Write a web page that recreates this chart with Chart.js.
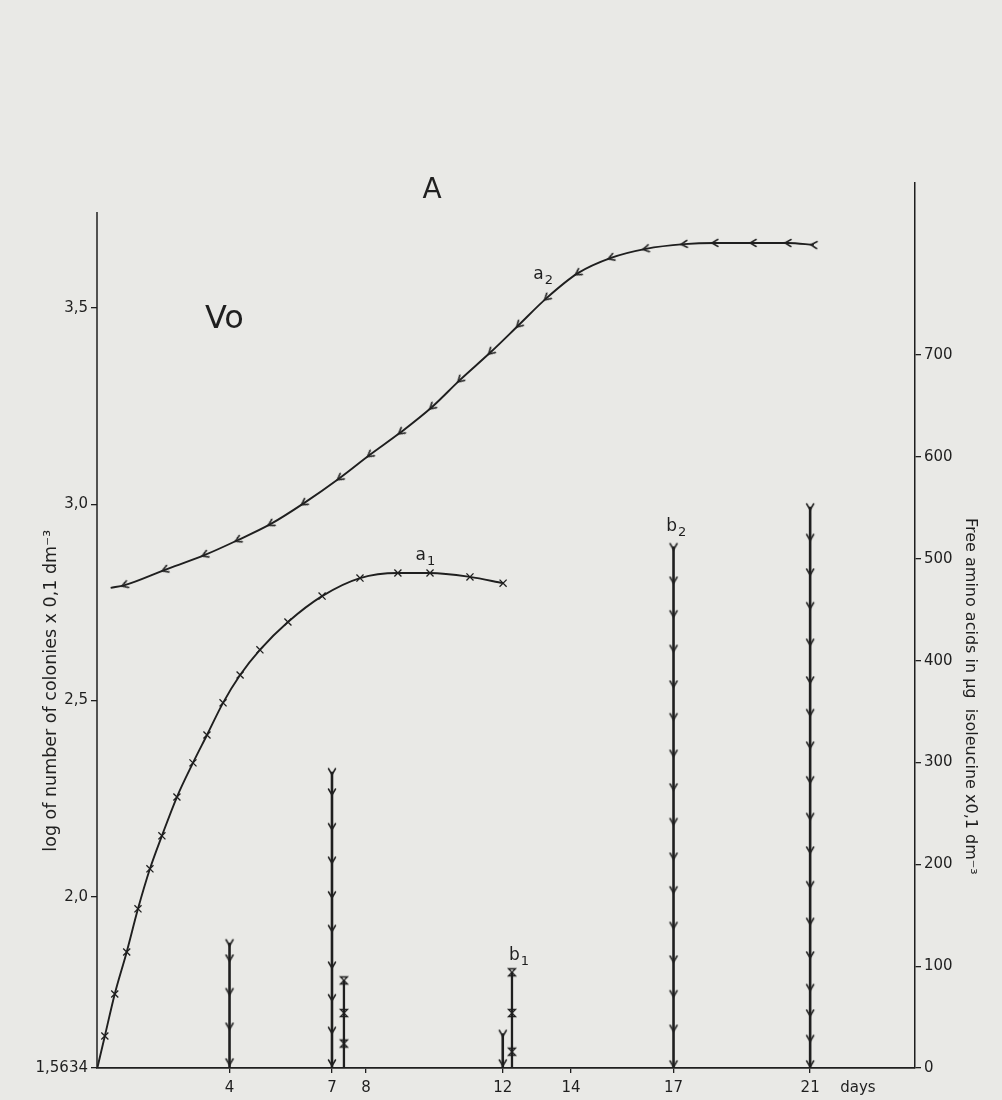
<!DOCTYPE html>
<html>
<head>
<meta charset="utf-8">
<script src="https://cdn.jsdelivr.net/npm/chart.js@4.4.1/dist/chart.umd.min.js"></script>
<style>
  html, body { margin: 0; padding: 0; background: #e9e9e6; }
  #wrap { width: 1002px; height: 1100px; position: relative; }
</style>
</head>
<body>
<div id="wrap"><canvas id="chart"></canvas></div>
<script>
// curve a1 - log of colonies (left axis)
const a1Days = [0.13, 0.35, 0.64, 0.99, 1.32, 1.67, 2.02, 2.46, 2.93, 3.34, 3.81, 4.31, 4.89, 5.71, 6.71, 7.82, 8.93, 9.87, 11.04, 12.01];
const a1Log = [1.5634, 1.645, 1.752, 1.859, 1.969, 2.071, 2.155, 2.254, 2.341, 2.412, 2.494, 2.565, 2.629, 2.700, 2.766, 2.812, 2.825, 2.825, 2.815, 2.799];

// curve a2 - log of colonies (left axis)
const a2Days = [0.52, 0.93, 2.11, 3.28, 4.25, 5.21, 6.18, 7.23, 8.11, 9.02, 9.93, 10.75, 11.65, 12.47, 13.29, 14.20, 15.17, 16.19, 17.31, 18.21, 19.33, 20.35, 21.11];
const a2Log = [2.787, 2.794, 2.833, 2.871, 2.909, 2.950, 3.003, 3.067, 3.126, 3.184, 3.248, 3.317, 3.388, 3.457, 3.526, 3.589, 3.628, 3.651, 3.663, 3.666, 3.666, 3.666, 3.661];

// free amino acid columns (right axis), marks read from bottom to top
const bColumnDays = [4, 7, 12, 17, 21];
const bColumnValues = [
    [0, 6, 41, 75, 108, 123],
    [0, 5, 37, 69, 101, 137, 170, 204, 237, 271, 291],
    [0, 5, 34],
    [0, 4, 39, 73, 107, 140, 175, 208, 242, 276, 309, 345, 377, 412, 446, 479, 512],
    [0, 4, 29, 54, 79, 111, 144, 180, 214, 247, 283, 317, 349, 381, 418, 454, 487, 521, 551]
];
const xColumnDays = [7.35, 12.27];
const xColumnValues = [
    [0, 24, 54, 86],
    [0, 16, 54, 94]
];

// tick labels
const logTicks = [1.5634, 2.0, 2.5, 3.0, 3.5];
const aminoTicks = [0, 100, 200, 300, 400, 500, 600, 700];
const dayTicks = [4, 7, 8, 12, 14, 17, 21];
const dayUnitAt = 22.4; // where the "days" word sits on the axis

const ink = '#1f1f1f';
const font = 'DejaVu Sans';

// small marker shapes
function chevronDown() {
    const c = document.createElement('canvas');
    c.width = 12; c.height = 12;
    const g = c.getContext('2d');
    g.strokeStyle = ink; g.lineWidth = 1.5; g.lineCap = 'round';
    g.beginPath();
    g.moveTo(2.5, 3); g.lineTo(6, 9); g.lineTo(9.5, 3);
    g.stroke();
    return c;
}
function hourglass() {
    const c = document.createElement('canvas');
    c.width = 12; c.height = 12;
    const g = c.getContext('2d');
    g.strokeStyle = ink; g.lineWidth = 1.3;
    g.beginPath();
    g.moveTo(2.5, 2.5); g.lineTo(9.5, 2.5); g.lineTo(2.5, 9.5); g.lineTo(9.5, 9.5); g.closePath();
    g.stroke();
    return c;
}
const vMark = chevronDown();
const xMark = hourglass();

function pairs(xs, ys) {
    return xs.map((x, i) => ({ x: x, y: ys[i] }));
}

// turn the a2 arrowheads so they follow the curve
function alongCurve(ctx) {
    if (ctx.dataIndex === undefined) return 90;
    const d = ctx.dataset.data, i = ctx.dataIndex;
    const sx = ctx.chart.scales.x, sy = ctx.chart.scales.y;
    const p = d[Math.max(i - 1, 0)], q = d[Math.min(i + 1, d.length - 1)];
    const ang = Math.atan2(sy.getPixelForValue(q.y) - sy.getPixelForValue(p.y),
                           sx.getPixelForValue(q.x) - sx.getPixelForValue(p.x));
    return 90 + ang * 180 / Math.PI;
}

const datasets = [];
datasets.push({
    label: 'a1', data: pairs(a1Days, a1Log), yAxisID: 'y',
    borderColor: ink, borderWidth: 1.9, cubicInterpolationMode: 'monotone',
    pointStyle: 'crossRot', pointBorderColor: ink, pointBorderWidth: 1.3,
    pointRadius: ctx => ctx.dataIndex === 0 ? 0 : 5
});
datasets.push({
    label: 'a2', data: pairs(a2Days, a2Log), yAxisID: 'y',
    borderColor: ink, borderWidth: 1.9, cubicInterpolationMode: 'monotone',
    pointStyle: vMark, rotation: alongCurve,
    pointRadius: ctx => ctx.dataIndex === 0 ? 0 : 5
});
bColumnDays.forEach((day, k) => {
    datasets.push({
        label: 'b' + day, yAxisID: 'y2',
        data: bColumnValues[k].map(v => ({ x: day, y: v })),
        borderColor: ink, borderWidth: 2.6,
        pointStyle: vMark,
        pointRadius: ctx => ctx.dataIndex === 0 ? 0 : 5
    });
});
xColumnDays.forEach((day, k) => {
    datasets.push({
        label: 'x' + day, yAxisID: 'y2',
        data: xColumnValues[k].map(v => ({ x: day, y: v })),
        borderColor: ink, borderWidth: 2.3,
        pointStyle: xMark,
        pointRadius: ctx => ctx.dataIndex === 0 ? 0 : 5
    });
});

// background, left axis line and free text
const paperPlugin = {
    id: 'paper',
    beforeDraw(chart) {
        const c = chart.ctx;
        c.save();
        c.fillStyle = '#e9e9e6';
        c.fillRect(0, 0, chart.width, chart.height);
        c.restore();
    },
    afterDraw(chart) {
        const c = chart.ctx, x = chart.scales.x, y = chart.scales.y, area = chart.chartArea;
        c.save();
        // left axis stops below the top of the plot
        c.strokeStyle = ink; c.lineWidth = 1.5;
        c.beginPath();
        c.moveTo(area.left, y.getPixelForValue(1.5634));
        c.lineTo(area.left, y.getPixelForValue(3.745));
        c.stroke();

        c.fillStyle = ink;
        c.textAlign = 'center';
        c.textBaseline = 'middle';
        c.font = '28px ' + font;
        c.fillText('A', x.getPixelForValue(9.93), area.top + 8);
        c.font = '32px ' + font;
        c.fillText('Vo', x.getPixelForValue(3.85), y.getPixelForValue(3.47));

        // curve labels with subscripts
        function tag(letter, sub, px, py) {
            c.font = '17px ' + font;
            c.textAlign = 'right';
            c.fillText(letter, px, py);
            c.font = '13px ' + font;
            c.textAlign = 'left';
            c.fillText(sub, px + 1, py + 6);
        }
        const y2 = chart.scales.y2;
        tag('a', '2', x.getPixelForValue(13.2), y.getPixelForValue(3.585));
        tag('a', '1', x.getPixelForValue(9.75), y.getPixelForValue(2.87));
        tag('b', '1', x.getPixelForValue(12.5), y2.getPixelForValue(110));
        tag('b', '2', x.getPixelForValue(17.1), y2.getPixelForValue(532));

        // axis titles
        c.font = '17.5px ' + font;
        c.textAlign = 'center';
        c.save();
        c.translate(51, y.getPixelForValue(2.525));
        c.rotate(-Math.PI / 2);
        c.fillText('log of number of colonies x 0,1 dm\u207B\u00B3', 0, 0);
        c.restore();
        c.font = '16px ' + font;
        c.save();
        c.translate(970, y2.getPixelForValue(365));
        c.rotate(Math.PI / 2);
        c.fillText('Free amino acids in \u00B5g  isoleucine x0,1 dm\u207B\u00B3', 0, 0);
        c.restore();
        c.restore();
    }
};

new Chart(document.getElementById('chart'), {
    type: 'line',
    data: { datasets: datasets },
    plugins: [paperPlugin],
    options: {
        responsive: true,
        maintainAspectRatio: false,
        animation: false,
        layout: { padding: { top: 183, left: 0, right: 0, bottom: 0 } },
        plugins: { legend: { display: false }, tooltip: { enabled: false } },
        scales: {
            x: {
                type: 'linear', min: 0.12, max: 24.07,
                afterFit: s => { s.height = 32; },
                afterBuildTicks: s => {
                    s.ticks = dayTicks.concat([dayUnitAt]).map(v => ({ value: v }));
                },
                ticks: {
                    autoSkip: false, maxRotation: 0, color: ink, padding: 6,
                    font: { family: font, size: 15 },
                    callback: v => v === dayUnitAt ? 'days' : String(v)
                },
                grid: {
                    drawOnChartArea: false, tickLength: 5, lineWidth: 1.3,
                    tickColor: ctx => (ctx.tick && ctx.tick.value === dayUnitAt) ? 'rgba(0,0,0,0)' : ink
                },
                border: { color: ink, width: 1.8 }
            },
            y: {
                type: 'linear', position: 'left', min: 1.5634, max: 3.8188,
                afterFit: s => { s.width = 97; },
                afterBuildTicks: s => { s.ticks = logTicks.map(v => ({ value: v })); },
                ticks: {
                    color: ink, padding: 3,
                    font: { family: font, size: 15 },
                    callback: v => (v === 1.5634 ? '1.5634' : v.toFixed(1)).replace('.', ',')
                },
                grid: { drawOnChartArea: false, tickLength: 6, lineWidth: 1.3, color: ink },
                border: { display: false }
            },
            y2: {
                type: 'linear', position: 'right', min: 0, max: 869,
                afterFit: s => { s.width = 87; },
                afterBuildTicks: s => { s.ticks = aminoTicks.map(v => ({ value: v })); },
                ticks: {
                    color: ink, padding: 3,
                    font: { family: font, size: 15 }
                },
                grid: { drawOnChartArea: false, tickLength: 6, lineWidth: 1.3, color: ink },
                border: { color: ink, width: 1.5 }
            }
        }
    }
});
</script>
</body>
</html>
